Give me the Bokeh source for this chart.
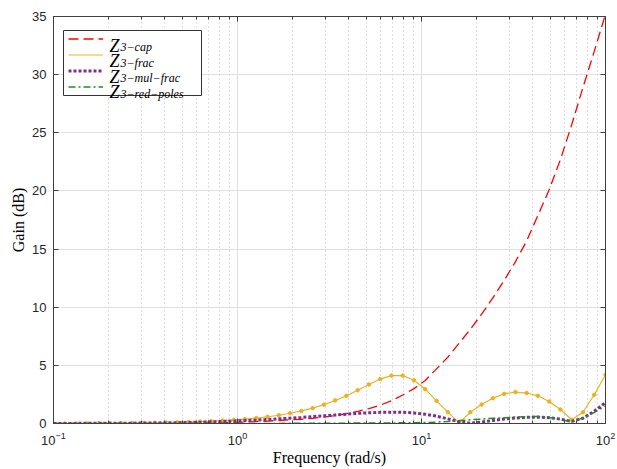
from bokeh.plotting import figure
from bokeh.models import (FixedTicker, LogAxis, LinearAxis, Legend, LegendItem,
                          Label, LogTickFormatter, Range1d, BoxAnnotation)
from bokeh.embed import file_html
from bokeh.resources import INLINE

# ---------------- data ----------------
freq = [0.1, 0.1151, 0.1326, 0.1526, 0.1758, 0.2024, 0.2330, 0.2683, 0.3089, 0.3556,
        0.4095, 0.4715, 0.5429, 0.6251, 0.7197, 0.8286, 0.9541, 1.0985, 1.2649, 1.4563,
        1.6768, 1.9307, 2.2230, 2.5595, 2.9471, 3.3932, 3.9069, 4.4984, 5.1795, 5.9636,
        6.8665, 7.9060, 9.1030, 10.481, 12.068, 13.895, 16.000, 18.421, 21.210, 24.421,
        28.118, 32.375, 37.276, 42.919, 49.417, 56.899, 65.513, 75.431, 86.851, 100.0]

gain_cap = [0.00, 0.00, 0.00, 0.00, 0.00, 0.01, 0.01, 0.01, 0.01, 0.02,
            0.02, 0.03, 0.04, 0.05, 0.06, 0.08, 0.10, 0.13, 0.17, 0.21,
            0.26, 0.32, 0.36, 0.45, 0.55, 0.67, 0.85, 1.05, 1.28, 1.58,
            1.95, 2.45, 3.00, 3.70, 4.70, 5.70, 6.90, 8.10, 9.40, 10.8,
            12.3, 13.9, 15.7, 17.9, 20.1, 22.7, 25.7, 28.9, 32.0, 35.2]

gain_frac = [0.00, 0.00, 0.01, 0.01, 0.02, 0.02, 0.03, 0.04, 0.05, 0.06,
             0.08, 0.10, 0.13, 0.16, 0.20, 0.25, 0.31, 0.38, 0.47, 0.58,
             0.71, 0.88, 1.08, 1.32, 1.62, 1.98, 2.38, 2.86, 3.35, 3.82,
             4.12, 4.12, 3.72, 2.95, 1.95, 0.98, 0.05, 0.97, 1.63, 2.18,
             2.55, 2.70, 2.62, 2.38, 1.89, 1.20, 0.32, 0.97, 2.47, 4.19]

gain_mul_frac = [0.01, 0.01, 0.01, 0.02, 0.02, 0.02, 0.03, 0.03, 0.04, 0.05,
                 0.06, 0.07, 0.09, 0.11, 0.14, 0.17, 0.21, 0.25, 0.29, 0.34,
                 0.40, 0.46, 0.52, 0.59, 0.66, 0.73, 0.80, 0.87, 0.92, 0.96,
                 0.97, 0.96, 0.91, 0.80, 0.63, 0.40, 0.15, 0.03, 0.12, 0.26,
                 0.38, 0.47, 0.53, 0.55, 0.50, 0.38, 0.18, 0.45, 1.05, 1.80]

gain_red_poles = [0.01, 0.01, 0.01, 0.01, 0.01, 0.01, 0.01, 0.01, 0.01, 0.01,
                  0.01, 0.01, 0.01, 0.01, 0.01, 0.01, 0.01, 0.01, 0.01, 0.01,
                  0.01, 0.02, 0.02, 0.02, 0.03, 0.03, 0.03, 0.04, 0.04, 0.05,
                  0.05, 0.06, 0.07, 0.08, 0.12, 0.18, 0.25, 0.32, 0.38, 0.45,
                  0.50, 0.55, 0.58, 0.60, 0.52, 0.35, 0.13, 0.48, 0.95, 1.50]

series_base = ["Z", "Z", "Z", "Z"]
series_sub = ["3\u2212cap", "3\u2212frac", "3\u2212mul\u2212frac", "3\u2212red\u2212poles"]

x_major_ticks = [0.1, 1, 10, 100]
x_minor_ticks = [0.2, 0.3, 0.4, 0.5, 0.6, 0.7, 0.8, 0.9,
                 2, 3, 4, 5, 6, 7, 8, 9,
                 20, 30, 40, 50, 60, 70, 80, 90]
y_ticks = [0, 5, 10, 15, 20, 25, 30, 35]

# ---------------- figure ----------------
AX = "#404040"
TICK_FONT = "Liberation Sans"
LABEL_FONT = "Liberation Serif"

p = figure(width=617, height=469, x_axis_type="log",
           x_range=Range1d(0.1, 100), y_range=Range1d(0, 35),
           output_backend="svg", toolbar_location=None,
           min_border_left=53, min_border_right=12, min_border_top=16,
           min_border_bottom=46)
p.background_fill_color = "white"
p.border_fill_color = "white"
p.outline_line_color = AX
p.outline_line_width = 1

xticker = FixedTicker(ticks=x_major_ticks, minor_ticks=x_minor_ticks)
yticker = FixedTicker(ticks=y_ticks, minor_ticks=[])


def style_axis(ax, labels=True):
    ax.axis_line_color = AX
    ax.major_tick_line_color = AX
    ax.minor_tick_line_color = AX
    ax.major_tick_in = 5
    ax.major_tick_out = 0
    ax.minor_tick_in = 3
    ax.minor_tick_out = 0
    if labels:
        ax.major_label_text_font = TICK_FONT
        ax.major_label_text_font_size = "13px"
        ax.major_label_text_color = "#262626"
    else:
        ax.major_label_text_font_size = "1px"
        ax.major_label_text_alpha = 0
        ax.major_label_standoff = 0


xa = p.xaxis[0]
xa.ticker = xticker
xa.formatter = LogTickFormatter()
style_axis(xa)
xa.major_label_standoff = 8
xa.axis_label = "Frequency (rad/s)"
xa.axis_label_text_font = LABEL_FONT
xa.axis_label_text_font_size = "16px"
xa.axis_label_text_font_style = "normal"
xa.axis_label_text_color = "black"
xa.axis_label_standoff = 1

ya = p.yaxis[0]
ya.ticker = yticker
style_axis(ya)
ya.major_label_standoff = 7
ya.axis_label = "Gain (dB)"
ya.axis_label_text_font = LABEL_FONT
ya.axis_label_text_font_size = "16px"
ya.axis_label_text_font_style = "normal"
ya.axis_label_text_color = "black"
ya.axis_label_standoff = 2

top = LogAxis(ticker=xticker, formatter=LogTickFormatter())
style_axis(top, labels=False)
p.add_layout(top, "above")
right = LinearAxis(ticker=yticker)
style_axis(right, labels=False)
p.add_layout(right, "right")

# grids
p.xgrid.ticker = xticker
p.xgrid.grid_line_color = "#e0e0e0"
p.xgrid.grid_line_width = 1
p.xgrid.minor_grid_line_color = "#bdbdbd"
p.xgrid.minor_grid_line_dash = "1 3"
p.xgrid.minor_grid_line_width = 1
p.ygrid.ticker = yticker
p.ygrid.grid_line_color = "#e0e0e0"
p.ygrid.grid_line_width = 1

# ---------------- legend box (white, opaque, bordered) ----------------
legend_box = BoxAnnotation(left=10, right=148, bottom=328, top=393,
                           left_units="screen", right_units="screen",
                           bottom_units="screen", top_units="screen",
                           fill_color="white", fill_alpha=1.0,
                           line_color="#333333", line_width=1, line_alpha=1.0,
                           level="underlay")
p.add_layout(legend_box)

# ---------------- curves ----------------
r_cap = p.line(freq, gain_cap, line_color="#ff0000", line_width=1.3, line_dash="10 5")
r_frac = p.line(freq, gain_frac, line_color="#edb120", line_width=1.2)
r_frac_m = p.scatter(freq, gain_frac, marker="circle", size=3.5,
                     fill_color="#edb120", line_color="#edb120")
r_mul = p.line(freq, gain_mul_frac, line_color="#7e2f8e", line_width=3, line_dash="3 2")
r_red = p.line(freq, gain_red_poles, line_color="#1f8f1f", line_width=1.5, line_dash="7 3 2 3")

# ---------------- legend samples ----------------
legend = Legend(items=[LegendItem(label=" ", renderers=[r_cap]),
                       LegendItem(label=" ", renderers=[r_frac]),
                       LegendItem(label=" ", renderers=[r_mul]),
                       LegendItem(label=" ", renderers=[r_red])],
                location="top_left", margin=10, padding=5, spacing=1,
                glyph_width=35, glyph_height=15, label_height=15,
                label_standoff=3, label_width=80, label_text_font_size="8px",
                border_line_alpha=0, background_fill_alpha=0)
p.add_layout(legend)

row_step = 15.5
for k, (base, sub) in enumerate(zip(series_base, series_sub)):
    yb = 377.7 - k * row_step
    p.add_layout(Label(x=56, y=yb, x_units="screen", y_units="screen", text=base,
                       text_font=LABEL_FONT, text_font_style="italic",
                       text_font_size="18px", text_color="black",
                       text_baseline="alphabetic", text_align="left",
                       level="overlay"))
    p.add_layout(Label(x=67, y=yb - 1.3, x_units="screen", y_units="screen", text=sub,
                       text_font=LABEL_FONT, text_font_style="italic",
                       text_font_size="12px", text_color="black",
                       text_baseline="alphabetic", text_align="left",
                       level="overlay"))

open("out.html", "w").write(file_html(p, INLINE))
